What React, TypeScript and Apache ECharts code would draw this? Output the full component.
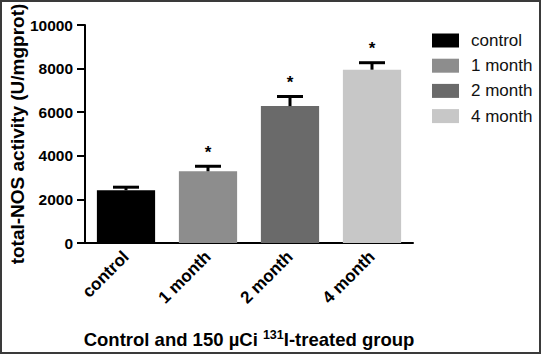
import React, { useEffect, useRef } from "react";
import * as echarts from "echarts";

const categories = ["control", "1 month", "2 month", "4 month"];
const means = [2420, 3290, 6280, 7950];
const upper = [2560, 3520, 6720, 8270];
const significant = [false, true, true, true];
const colors = ["#000000", "#8d8d8d", "#6a6a6a", "#c7c7c7"];
const yTicks = { min: 0, max: 10000, interval: 2000 };

const FONT = "'Liberation Sans', Arial, Helvetica, sans-serif";

export default function App() {
  const ref = useRef<HTMLDivElement>(null);
  useEffect(() => {
    if (!ref.current) return;
    const chart = echarts.init(ref.current, undefined, { renderer: "svg" });

    const barSeries = categories.map((name, i) => ({
      name,
      type: "bar",
      barGap: "-100%",
      barCategoryGap: "29%",
      itemStyle: { color: colors[i] },
      data: categories.map((_, j) => (j === i ? means[j] : "-")),
      z: 2,
    }));

    const errData = categories.map((_, i) => [i, means[i], upper[i], significant[i] ? 1 : 0]);

    const option: any = {
      animation: false,
      backgroundColor: "#ffffff",
      textStyle: { fontFamily: FONT },
      grid: {
        left: 85,
        top: 25,
        width: 328,
        height: 218,
        containLabel: false,
        outerBoundsMode: "none",
      },
      legend: {
        orient: "vertical",
        left: 432,
        top: 32,
        padding: 0,
        itemWidth: 27,
        itemHeight: 14,
        itemGap: 8.2,
        icon: "rect",
        data: categories,
        textStyle: {
          fontFamily: FONT,
          fontSize: 17,
          color: "#111",
          lineHeight: 17,
          padding: [0, 0, 0, 7],
        },
      },
      xAxis: {
        type: "category",
        data: categories,
        axisLine: { lineStyle: { color: "#000", width: 2 } },
        axisTick: { alignWithLabel: true, length: 7, lineStyle: { color: "#000", width: 2 } },
        axisLabel: {
          rotate: 45,
          margin: 11,
          fontFamily: FONT,
          fontWeight: "bold",
          fontSize: 17,
          color: "#000",
        },
        name: "Control and 150 µCi {sup|131}I-treated group",
        nameLocation: "middle",
        nameGap: 85,
        nameMoveOverlap: false,
        nameTextStyle: {
          fontFamily: FONT,
          fontWeight: "bold",
          fontSize: 18.5,
          color: "#000",
          rich: {
            sup: {
              fontFamily: FONT,
              fontWeight: "bold",
              fontSize: 12.5,
              color: "#000",
              verticalAlign: "top",
              padding: [0, 0, 9, 0],
            },
          },
        },
      },
      yAxis: {
        type: "value",
        min: yTicks.min,
        max: yTicks.max,
        interval: yTicks.interval,
        splitLine: { show: false },
        axisLine: { show: true, lineStyle: { color: "#000", width: 2 } },
        axisTick: { show: true, length: 8, lineStyle: { color: "#000", width: 2 } },
        axisLabel: {
          margin: 12,
          fontFamily: FONT,
          fontWeight: "bold",
          fontSize: 15.5,
          color: "#000",
          formatter: (v: number) => String(v),
        },
        name: "total-NOS activity (U/mgprot)",
        nameLocation: "middle",
        nameGap: 58,
        nameMoveOverlap: false,
        nameTextStyle: {
          fontFamily: FONT,
          fontWeight: "bold",
          fontSize: 19,
          color: "#000",
        },
      },
      series: [
        ...barSeries,
        {
          type: "custom",
          name: "err",
          z: 3,
          encode: { x: 0, y: [1, 2] },
          data: errData,
          renderItem: (params: any, api: any) => {
            const x = api.value(0);
            const m = api.value(1);
            const h = api.value(2);
            const star = api.value(3);
            const p0 = api.coord([x, m]);
            const p1 = api.coord([x, h]);
            const children: any[] = [
              {
                type: "line",
                shape: { x1: p0[0], y1: p0[1], x2: p1[0], y2: p1[1] },
                style: { stroke: "#000", lineWidth: 3 },
              },
              {
                type: "line",
                shape: { x1: p1[0] - 13, y1: p1[1], x2: p1[0] + 13, y2: p1[1] },
                style: { stroke: "#000", lineWidth: 3 },
              },
            ];
            if (star) {
              children.push({
                type: "text",
                x: p1[0],
                y: p1[1] - 14,
                style: {
                  text: "*",
                  fontFamily: FONT,
                  fontWeight: "bold",
                  fontSize: 17,
                  fill: "#000",
                  align: "center",
                  verticalAlign: "middle",
                },
              });
            }
            return { type: "group", children };
          },
        },
      ],
      graphic: [
        {
          type: "rect",
          shape: { x: 1, y: 1, width: 539, height: 352 },
          style: { fill: "none", stroke: "#3a3a3a", lineWidth: 2 },
          silent: true,
        },
      ],
    };

    chart.setOption(option);
    return () => chart.dispose();
  }, []);

  return (
    <div style={{ position: "absolute", left: 0, top: 0, width: 543, height: 356 }}>
      <div ref={ref} style={{ width: 543, height: 356 }} />
    </div>
  );
}
